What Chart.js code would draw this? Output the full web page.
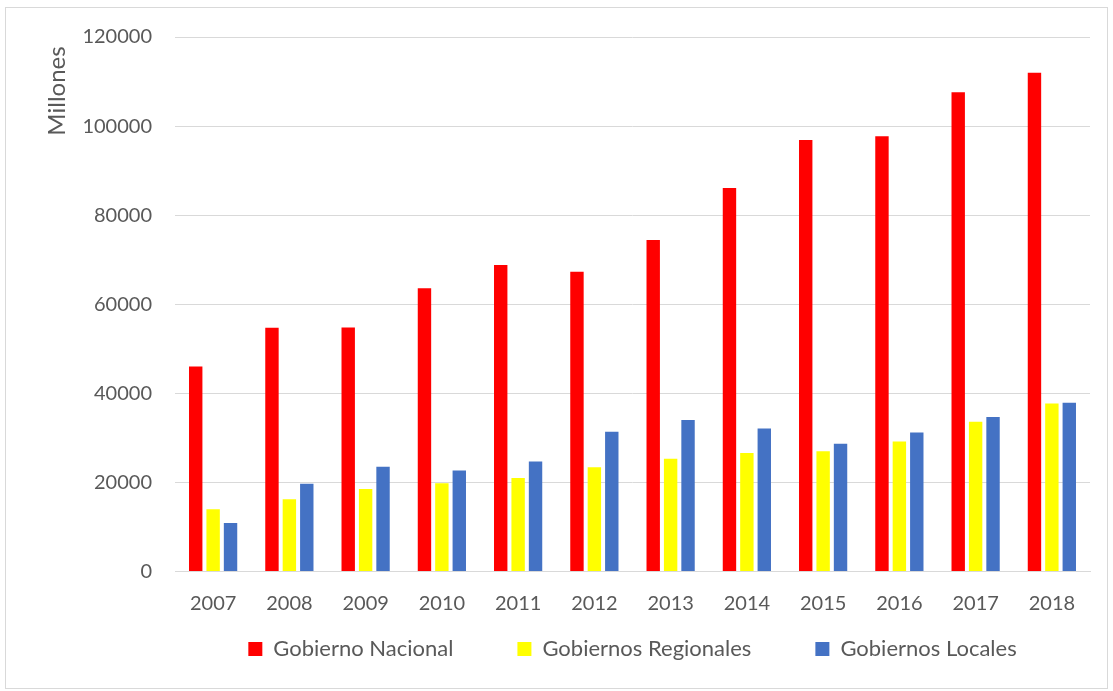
<!DOCTYPE html>
<html lang="es">
<head>
  <meta charset="UTF-8" />
  <title>Gobierno</title>
  <script src="https://cdn.jsdelivr.net/npm/chart.js"></script>
  <style>
    html, body {
      margin: 0;
      padding: 0;
      background: #fff;
    }
    .wrap {
      position: relative;
      width: 1113px;
      height: 691px;
    }
    .frame {
      position: absolute;
      left: 5px;
      top: 7px;
      width: 1101px;
      height: 680px;
      border: 1px solid #d9d9d9;
      pointer-events: none;
    }
  </style>
</head>
<body>
  <div class="wrap">
    <canvas id="mychart" width="1113" height="691"></canvas>
    <div class="frame"></div>
  </div>
  <script>
    const years = ['2007', '2008', '2009', '2010', '2011', '2012', '2013', '2014', '2015', '2016', '2017', '2018'];
    const nacional = [46000, 54700, 54800, 63600, 68800, 67300, 74400, 86100, 96900, 97700, 107600, 112000];
    const regionales = [14000, 16200, 18500, 19800, 21000, 23400, 25300, 26600, 27000, 29200, 33600, 37700];
    const locales = [10900, 19700, 23500, 22700, 24700, 31400, 34000, 32100, 28700, 31200, 34700, 37900];

    const textColor = '#595959';
    const font = "Lato, 'Open Sans', sans-serif";

    // bars with small gaps inside each year group
    const barOpts = { categoryPercentage: 0.685, barPercentage: 0.77 };

    // empty legend entries used as spacers between the real ones
    function legendLabels(chart) {
      const items = Chart.defaults.plugins.legend.labels.generateLabels(chart);
      const out = [];
      items.forEach((item, i) => {
        if (i > 0) {
          out.push({ text: '', fillStyle: 'transparent', strokeStyle: 'transparent', lineWidth: 0, hidden: false, datasetIndex: -1 });
        }
        item.lineWidth = 0;
        out.push(item);
      });
      return out;
    }

    // vertical axis title, placed near the top like the original
    const axisTitle = {
      id: 'axisTitle',
      afterDraw(chart) {
        const ctx = chart.ctx;
        ctx.save();
        ctx.translate(57, 91);
        ctx.rotate(-Math.PI / 2);
        ctx.fillStyle = textColor;
        ctx.font = '24px ' + font;
        ctx.textAlign = 'center';
        ctx.textBaseline = 'middle';
        ctx.fillText('Millones', 0, 0);
        ctx.restore();
      }
    };

    var chart = new Chart('mychart', {
      type: 'bar',
      data: {
        labels: years,
        datasets: [
          Object.assign({ label: 'Gobierno Nacional', data: nacional, backgroundColor: '#ff0000' }, barOpts),
          Object.assign({ label: 'Gobiernos Regionales', data: regionales, backgroundColor: '#ffff00' }, barOpts),
          Object.assign({ label: 'Gobiernos Locales', data: locales, backgroundColor: '#4472c4' }, barOpts)
        ]
      },
      options: {
        responsive: false,
        animation: false,
        layout: {
          padding: { left: 40, right: 23, top: 37, bottom: 21 }
        },
        plugins: {
          tooltip: { enabled: false },
          legend: {
            position: 'bottom',
            fullSize: false,
            labels: {
              color: textColor,
              font: { family: font, size: 22 },
              boxWidth: 14,
              boxHeight: 14,
              padding: 19.5,
              generateLabels: legendLabels
            }
          }
        },
        scales: {
          x: {
            afterFit: (scale) => { scale.height = 47; },
            grid: { display: false, drawTicks: false },
            border: { color: '#d9d9d9' },
            ticks: {
              color: textColor,
              font: { family: font, size: 20 },
              padding: 20
            }
          },
          y: {
            min: 0,
            max: 120000,
            afterFit: (scale) => { scale.width = 135; },
            grid: { color: '#d9d9d9', drawTicks: false },
            border: { display: false },
            ticks: {
              stepSize: 20000,
              color: textColor,
              font: { family: font, size: 20 },
              padding: 23,
              callback: (v) => String(v)
            }
          }
        }
      },
      plugins: [axisTitle]
    });
  </script>
</body>
</html>
